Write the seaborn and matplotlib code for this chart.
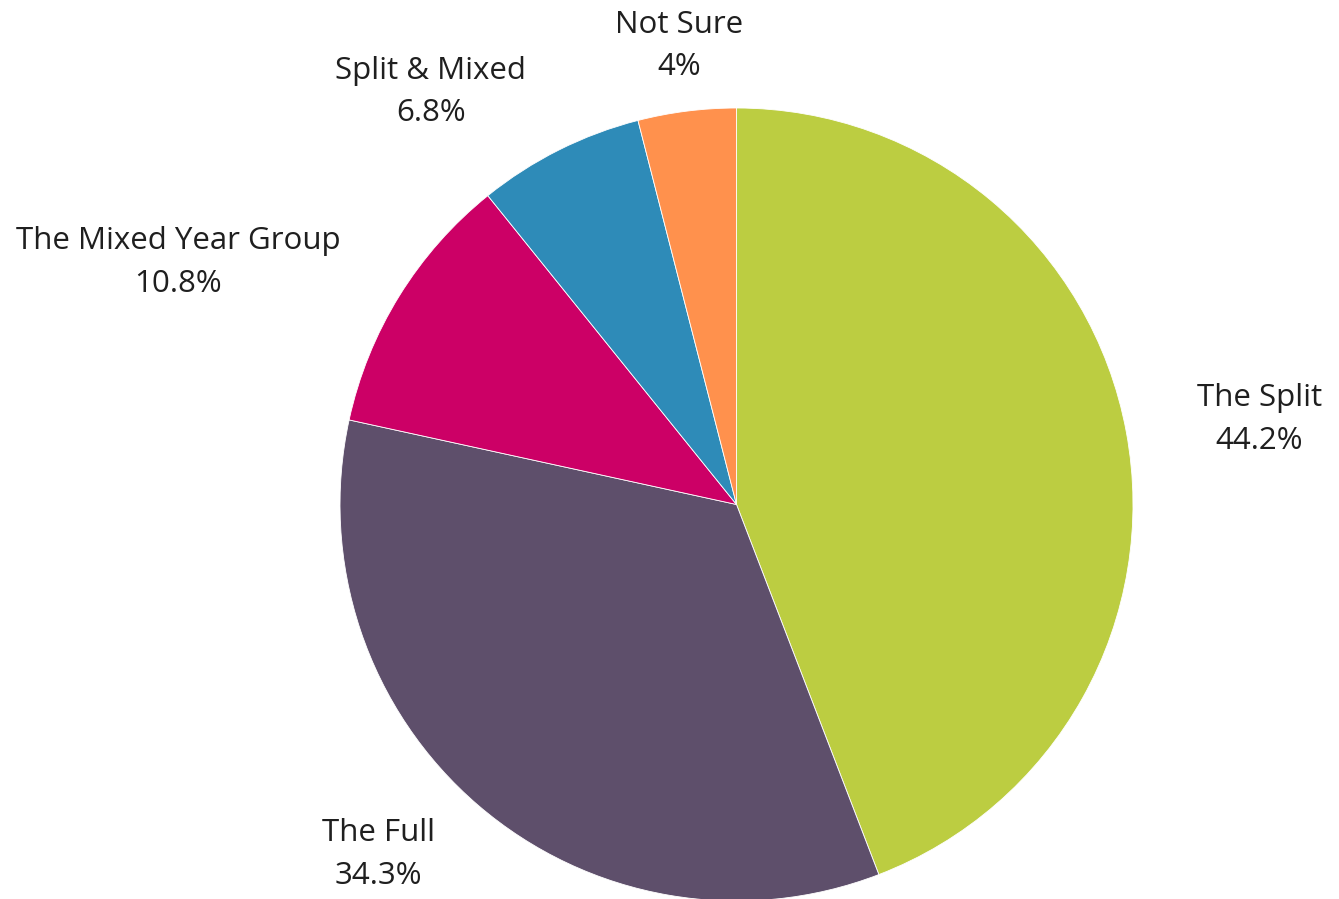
import matplotlib
matplotlib.use("Agg")
import matplotlib.pyplot as plt
import seaborn as sns

# Survey shares (percent), clockwise from 12 o'clock
categories = ["The Split", "The Full", "The Mixed Year Group", "Split & Mixed", "Not Sure"]
shares = [44.2, 34.3, 10.8, 6.8, 4.0]
share_labels = ["44.2%", "34.3%", "10.8%", "6.8%", "4%"]
colors = ["#BCCD41", "#5E4F6B", "#CC0066", "#2E8BB8", "#FF914D"]

# Label anchors, in units of the pie radius
label_pos = [(1.318, 0.214), (-0.904, -0.882), (-1.408, 0.610), (-0.771, 1.040), (-0.144, 1.156)]

sns.set_theme(style="white")
plt.rcParams["font.family"] = ["Open Sans", "DejaVu Sans"]

W, H = 1339, 899
fig = plt.figure(figsize=(W / 100, H / 100), dpi=100)
ax = fig.add_axes([0, 0, 1, 1])

cx, cy, r = 736.5, 504.5, 396.5
ax.pie(shares, colors=colors, startangle=90, counterclock=False,
       radius=1.0, wedgeprops=dict(edgecolor="white", linewidth=0.6))

for name, lab, (lx, ly) in zip(categories, share_labels, label_pos):
    ax.text(lx, ly, f"{name}\n{lab}", ha="center", va="center",
            fontsize=22.5, color="#1f1f1f", linespacing=1.55)

ax.set_xlim(-cx / r, (W - cx) / r)
ax.set_ylim(-(H - cy) / r, cy / r)
ax.set_aspect("equal")
ax.axis("off")

fig.savefig("out.png", dpi=100, facecolor="white")
